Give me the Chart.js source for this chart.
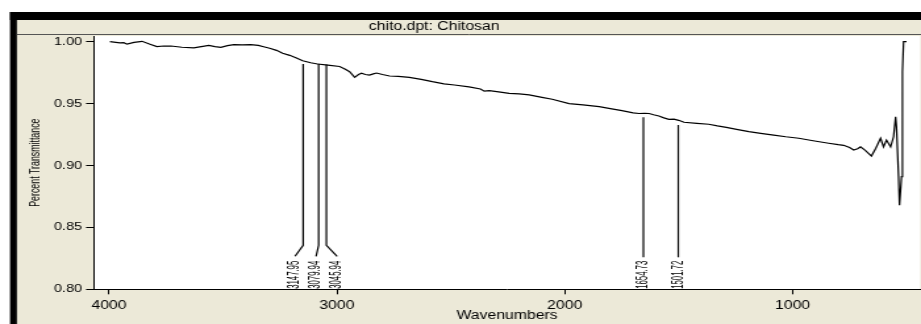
<!DOCTYPE html>
<html>
<head>
<meta charset="utf-8">
<script src="https://cdn.jsdelivr.net/npm/chart.js@4.4.0/dist/chart.umd.min.js"></script>
<style>
    html, body { margin: 0; padding: 0; background: #fff; overflow: hidden; }
    /* the original screenshot is stretched sideways, so the chart is drawn narrower and widened */
    #wrap { width: 700px; height: 324px; transform: scaleX(1.315714); transform-origin: 0 0; }
</style>
</head>
<body>
<div id="wrap"><canvas id="irChart"></canvas></div>
<script>
const wavenumbers = [
    3996, 3970, 3952, 3935, 3921, 3890, 3855, 3820, 3790, 3760, 3728, 3680, 3628, 3595, 3562,
    3535, 3509, 3480, 3452, 3415, 3378, 3345, 3317, 3295, 3265, 3238, 3207, 3180, 3150, 3115,
    3085, 3040, 2988, 2965, 2944, 2922, 2905, 2892, 2875, 2857, 2840, 2826, 2800, 2769, 2730,
    2682, 2630, 2581, 2530, 2484, 2420, 2370, 2353, 2331, 2290, 2244, 2200, 2156, 2100, 2055,
    1981, 1920, 1849, 1800, 1749, 1700, 1674, 1650, 1630, 1610, 1587, 1565, 1543, 1521, 1500,
    1477, 1420, 1368, 1330, 1291, 1240, 1192, 1140, 1083, 1030, 973, 910, 842, 800, 776,
    750, 732, 715, 702, 680, 654, 635, 614, 601, 588, 570, 557, 548, 544, 535,
    531, 522, 518, 513, 500
];
const transmittance = [
    1.0000, 0.9995, 0.9990, 0.9992, 0.9980, 0.9995, 1.0003, 0.9980, 0.9960, 0.9965, 0.9965, 0.9955, 0.9950, 0.9960, 0.9970,
    0.9960, 0.9955, 0.9968, 0.9976, 0.9975, 0.9977, 0.9970, 0.9957, 0.9947, 0.9930, 0.9906, 0.9890, 0.9870, 0.9846, 0.9830,
    0.9820, 0.9810, 0.9800, 0.9780, 0.9758, 0.9712, 0.9735, 0.9745, 0.9735, 0.9730, 0.9740, 0.9747, 0.9735, 0.9723, 0.9720,
    0.9712, 0.9695, 0.9677, 0.9660, 0.9650, 0.9635, 0.9618, 0.9600, 0.9604, 0.9595, 0.9583, 0.9578, 0.9570, 0.9550, 0.9535,
    0.9500, 0.9490, 0.9475, 0.9460, 0.9443, 0.9425, 0.9420, 0.9422, 0.9420, 0.9410, 0.9400, 0.9385, 0.9373, 0.9375, 0.9365,
    0.9349, 0.9340, 0.9333, 0.9320, 0.9308, 0.9290, 0.9273, 0.9260, 0.9246, 0.9232, 0.9220, 0.9200, 0.9180, 0.9168, 0.9163,
    0.9145, 0.9125, 0.9135, 0.9150, 0.9120, 0.9076, 0.9140, 0.9220, 0.9150, 0.9205, 0.9150, 0.9232, 0.9394, 0.9310, 0.8910,
    0.8680, 0.8910, 0.9758, 1.0000, 1.0000
];
const peakWavenumbers = [3147.95, 3079.94, 3045.94, 1654.73, 1501.72];
const peakTops = [0.9820, 0.9822, 0.9815, 0.9390, 0.9327];
const xTicks = [4000, 3000, 2000, 1000];
const yTicks = [0.80, 0.85, 0.90, 0.95, 1.00];

const FONT = '"Liberation Sans", Arial, sans-serif';

// push labels apart so neighbouring peak labels do not overlap
function spreadLabels(xs, gap) {
    let groups = xs.map((x, i) => ({ idx: [i], center: x }));
    let merged = true;
    while (merged) {
        merged = false;
        for (let g = 0; g < groups.length - 1; g++) {
            const A = groups[g], B = groups[g + 1];
            const aEnd = A.center + (A.idx.length - 1) * gap / 2;
            const bStart = B.center - (B.idx.length - 1) * gap / 2;
            if (bStart - aEnd < gap) {
                const idx = A.idx.concat(B.idx);
                const center = idx.reduce((s, i) => s + xs[i], 0) / idx.length;
                groups.splice(g, 2, { idx: idx, center: center });
                merged = true;
                break;
            }
        }
    }
    const out = [];
    groups.forEach(G => G.idx.forEach((i, k) => {
        out[i] = G.center + (k - (G.idx.length - 1) / 2) * gap;
    }));
    return out;
}

const windowPlugin = {
    id: 'windowFrame',
    beforeDraw(chart) {
        const { ctx, width, height, chartArea: a } = chart;
        ctx.save();
        ctx.fillStyle = '#fff';
        ctx.fillRect(0, 0, width, height);
        ctx.fillStyle = '#000';
        ctx.fillRect(7.6, 12, width, 8);
        ctx.fillRect(7.6, 12, 5.3, height);
        ctx.fillStyle = '#ece9d8';
        ctx.fillRect(12.9, 20, width, height);
        ctx.strokeStyle = '#555';
        ctx.lineWidth = 1;
        ctx.beginPath();
        ctx.moveTo(12.9, 34.5);
        ctx.lineTo(width, 34.5);
        ctx.stroke();
        ctx.fillStyle = '#fff';
        ctx.fillRect(a.left, a.top, a.right - a.left, a.bottom - a.top);

        ctx.fillStyle = '#000';
        ctx.font = '12px ' + FONT;
        ctx.textAlign = 'center';
        ctx.textBaseline = 'middle';
        ctx.fillText('chito.dpt: Chitosan', 330, 26.5);
        ctx.restore();
    },
    afterDatasetsDraw(chart) {
        const { ctx, chartArea: a, scales } = chart;
        const lineX = peakWavenumbers.map(w => scales.x.getPixelForValue(w));
        const labelX = spreadLabels(lineX, 16);
        ctx.save();
        ctx.strokeStyle = '#000';
        ctx.lineWidth = 1.2;
        ctx.fillStyle = '#000';
        peakWavenumbers.forEach((w, i) => {
            const x0 = lineX[i];
            const top = scales.y.getPixelForValue(peakTops[i]);
            const bend = a.bottom - 44;
            const end = a.bottom - 33;
            ctx.beginPath();
            ctx.moveTo(x0, top);
            if (Math.abs(labelX[i] - x0) > 0.5) {
                ctx.lineTo(x0, bend);
                ctx.lineTo(labelX[i], end);
            } else {
                ctx.lineTo(x0, end + 1);
            }
            ctx.stroke();

            ctx.save();
            ctx.translate(labelX[i], a.bottom - 0.5);
            ctx.rotate(-Math.PI / 2);
            ctx.scale(0.62, 0.95);
            ctx.font = '12.5px ' + FONT;
            ctx.textAlign = 'left';
            ctx.textBaseline = 'middle';
            ctx.fillText(w.toFixed(2), 0, 0);
            ctx.restore();
        });

        // y axis title, condensed like the original
        ctx.translate(26.6, (a.top + a.bottom) / 2);
        ctx.rotate(-Math.PI / 2);
        ctx.scale(0.8, 1.0);
        ctx.font = '11px ' + FONT;
        ctx.textAlign = 'center';
        ctx.textBaseline = 'middle';
        ctx.fillText('Percent Transmittance', 0, 0);
        ctx.restore();
    }
};

new Chart(document.getElementById('irChart'), {
    type: 'line',
    data: {
        datasets: [{
            label: 'Chitosan',
            data: wavenumbers.map((w, i) => ({ x: w, y: transmittance[i] })),
            borderColor: '#000',
            borderWidth: 1.2,
            pointRadius: 0,
            tension: 0,
            fill: false
        }]
    },
    options: {
        responsive: true,
        maintainAspectRatio: false,
        animation: false,
        layout: { padding: { left: 0, top: 36, right: 0, bottom: 0 } },
        plugins: {
            legend: { display: false },
            tooltip: { enabled: false }
        },
        scales: {
            x: {
                type: 'linear',
                reverse: true,
                min: 440,
                max: 4066,
                afterBuildTicks: scale => { scale.ticks = xTicks.map(v => ({ value: v })); },
                afterFit: scale => { scale.height = 34.7; },
                grid: { drawOnChartArea: false, drawTicks: true, tickLength: 5, color: '#000' },
                border: { display: true, color: '#000', width: 1 },
                ticks: {
                    color: '#000',
                    font: { family: FONT, size: 12 },
                    padding: 4,
                    maxRotation: 0,
                    autoSkip: false,
                    callback: v => String(v)
                },
                title: {
                    display: true,
                    text: 'Wavenumbers',
                    color: '#000',
                    font: { family: FONT, size: 12, lineHeight: 1 },
                    padding: { top: 0, bottom: 2 }
                }
            },
            y: {
                min: 0.80,
                max: 1.0046,
                afterBuildTicks: scale => { scale.ticks = yTicks.map(v => ({ value: v })); },
                afterFit: scale => { scale.width = 71.4; },
                grid: { drawOnChartArea: false, drawTicks: true, tickLength: 6, color: '#000' },
                border: { display: true, color: '#000', width: 1 },
                ticks: {
                    color: '#000',
                    font: { family: FONT, size: 11 },
                    padding: 3,
                    callback: v => v.toFixed(2)
                }
            }
        }
    },
    plugins: [windowPlugin]
});
</script>
</body>
</html>
